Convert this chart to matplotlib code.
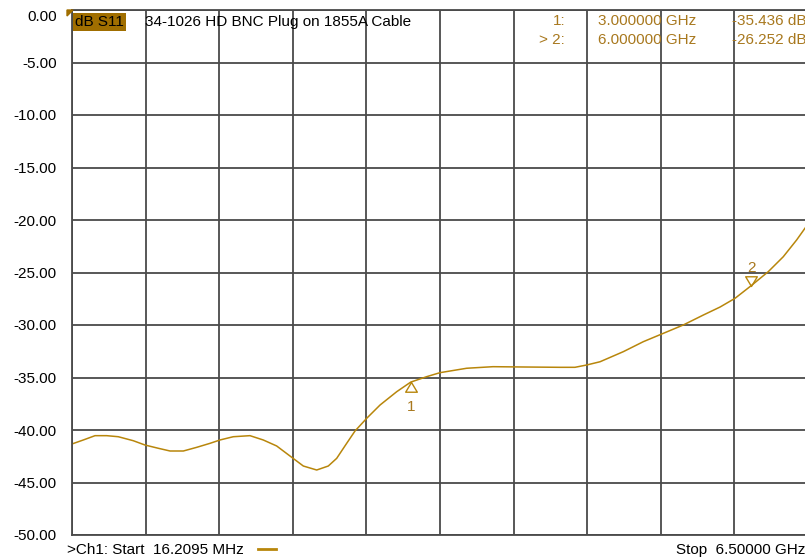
import matplotlib
matplotlib.use('Agg')
import matplotlib.pyplot as plt
from matplotlib.path import Path

plt.rcParams['font.family'] = ['Liberation Sans', 'DejaVu Sans']

# S11 trace (GHz, dB)
freq_ghz = [0.016, 0.116, 0.219, 0.322, 0.424, 0.556, 0.659, 0.776, 0.880, 0.997,
            1.115, 1.232, 1.320, 1.437, 1.584, 1.701, 1.819, 1.937, 2.054, 2.172,
            2.274, 2.348, 2.436, 2.509, 2.612, 2.730, 2.877, 3.0, 3.141, 3.258,
            3.493, 3.725, 4.0, 4.315, 4.447, 4.550, 4.668, 4.873, 5.049, 5.211,
            5.401, 5.578, 5.725, 5.857, 6.0, 6.150, 6.282, 6.400, 6.473, 6.5]
s11_db = [-41.33, -40.95, -40.54, -40.54, -40.64, -41.02, -41.43, -41.74, -42.0, -42.0,
          -41.65, -41.27, -40.95, -40.64, -40.54, -40.95, -41.52, -42.48, -43.43, -43.81,
          -43.43, -42.70, -41.27, -40.10, -38.89, -37.62, -36.35, -35.44, -34.92, -34.54,
          -34.12, -33.97, -34.0, -34.03, -34.03, -33.81, -33.50, -32.54, -31.59, -30.86,
          -30.0, -29.05, -28.29, -27.46, -26.25, -24.92, -23.50, -21.90, -20.79, -20.4]

# markers
marker_ids = ['1', '2']
marker_freq = [3.0, 6.0]
marker_db = [-35.436, -26.252]
marker_prefix = ['1:', '> 2:']

start_ghz = 0.0162095
stop_ghz = 6.5
y_ticks = [0, -5, -10, -15, -20, -25, -30, -35, -40, -45, -50]

trace_col = '#B8860B'
text_col = '#A8781E'
grid_col = '#4a4a4a'
fs = 11

fig = plt.figure(figsize=(8.05, 5.59), dpi=100)
ax = fig.add_axes([72 / 805, 24 / 559, 736 / 805, 525 / 559])

ax.set_xlim(start_ghz, stop_ghz)
ax.set_ylim(-50, 0)
span = stop_ghz - start_ghz
ax.set_xticks([start_ghz + span * i / 10 for i in range(11)])
ax.set_yticks(y_ticks)
ax.set_yticklabels([f'{v:.2f}' for v in y_ticks], fontsize=fs)
ax.tick_params(axis='x', length=0, labelbottom=False)
ax.tick_params(axis='y', length=0, pad=11)
ax.get_yticklabels()[0].set_verticalalignment('top')
ax.grid(True, color=grid_col, lw=1.3)
for s in ax.spines.values():
    s.set_color(grid_col)
    s.set_linewidth(1.3)

ax.plot(freq_ghz, s11_db, color=trace_col, lw=1.1)

# marker triangles: apex sits on the trace
up_tri = Path([(0, 0), (-0.6, -1), (0.6, -1), (0, 0)], closed=True)
down_tri = Path([(0, 0), (-0.6, 1), (0.6, 1), (0, 0)], closed=True)
ax.plot(marker_freq[0], marker_db[0], marker=up_tri, ms=14, mfc='none',
        mec=trace_col, mew=1.0)
ax.annotate(marker_ids[0], (marker_freq[0], marker_db[0]), xytext=(0, -18),
            textcoords='offset points', ha='center', va='center',
            color=text_col, fontsize=fs)
ax.plot(marker_freq[1], marker_db[1], marker=down_tri, ms=14, mfc='none',
        mec=trace_col, mew=1.0)
ax.annotate(marker_ids[1], (marker_freq[1], marker_db[1]), xytext=(0, 13),
            textcoords='offset points', ha='center', va='center',
            color=text_col, fontsize=fs)

# reference level flag
fig.patches.append(plt.Polygon([(67 / 805, 1 - 10 / 559), (73 / 805, 1 - 10 / 559),
                                (67 / 805, 1 - 16 / 559)], closed=True,
                               transform=fig.transFigure, color='#A06E00'))

fig.text(75 / 805, 1 - 22 / 559, 'dB S11', fontsize=fs, va='center', ha='left',
         bbox=dict(boxstyle='square,pad=0.12', fc='#A06E00', ec='none'))
fig.text(145 / 805, 1 - 22 / 559, '34-1026 HD BNC Plug on 1855A Cable',
         fontsize=fs, va='center', ha='left')

for i in range(2):
    yy = 1 - (21 + 19 * i) / 559
    fig.text(565 / 805, yy, marker_prefix[i], fontsize=fs, ha='right', va='center', color=text_col)
    fig.text(598 / 805, yy, f'{marker_freq[i]:.6f} GHz', fontsize=fs, ha='left', va='center', color=text_col)
    fig.text(806 / 805, yy, f'{marker_db[i]:.3f} dB', fontsize=fs, ha='right', va='center', color=text_col)

fig.text(67 / 805, 1 - 550 / 559, f'>Ch1: Start  {start_ghz * 1000:.4f} MHz',
         fontsize=fs, ha='left', va='center')
fig.lines.append(plt.Line2D([258 / 805, 276 / 805], [1 - 549 / 559] * 2,
                            transform=fig.transFigure, color=trace_col, lw=2.0))
fig.text(805 / 805, 1 - 550 / 559, f'Stop  {stop_ghz:.5f} GHz',
         fontsize=fs, ha='right', va='center')

fig.savefig('out.png', dpi=100)
